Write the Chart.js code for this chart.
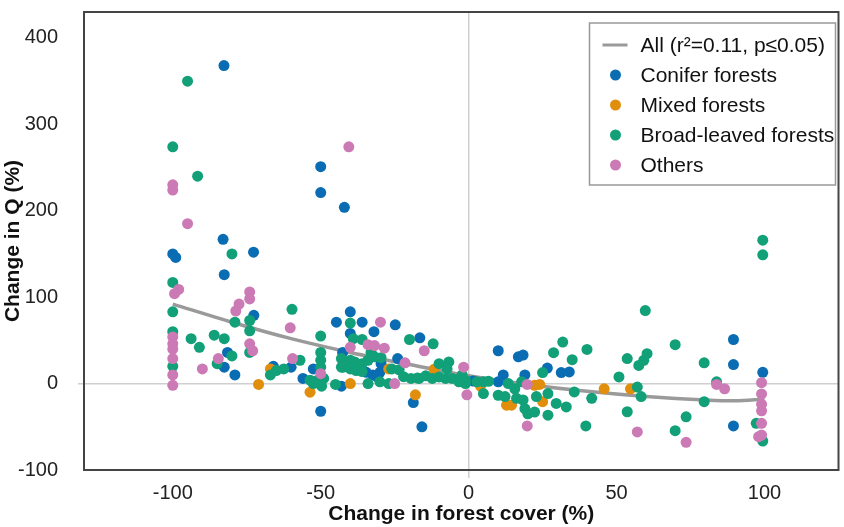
<!DOCTYPE html>
<html>
<head>
<meta charset="utf-8">
<script src="https://cdn.jsdelivr.net/npm/chart.js@4.4.1/dist/chart.umd.min.js"></script>
<style>
  html, body { margin: 0; padding: 0; background: #fff; }
  #wrap { width: 844px; height: 527px; }
</style>
</head>
<body>
<div id="wrap"><canvas id="chart" width="844" height="527"></canvas></div>
<script>
// точки [изменение лесистости %, изменение стока Q %]
const coniferPts = [
  [-82.7,368],[-50,221],[-50,251],[-42,204],[-100,150],[-99,146],[-83,167],[-82.6,126],
  [-72.7,152],[-72.6,79],[-81.5,36],[-82.6,19],[-79,10],[-66,20],[-60,19],[-56,6],
  [-40,83],[-44.7,71],[-36,71],[-24.8,68],[-32,60],[-40,58],[-42.6,36],[-16.5,53],
  [-29.6,23],[-24,29],[-52.5,17],[-43,-3],[-34.6,13],[-32.4,10],[-30,13],[-31,8],
  [-18.7,-22],[-50,-32],[-15.8,-50],[1.5,3],[10,38],[16.8,31],[18.4,33],[11.7,10],
  [10,2],[19,10],[26.6,18],[34,13.5],[31.3,12.7],[89.5,51],[89.5,22],[99.4,13],[89.5,-49]
];
const mixedPts = [
  [-71,-1],[-67,17],[-53.6,-10],[-40,0],[-27,17],[-18,-13],[-11.7,16.5],[4,-3],
  [12.8,-25],[14.5,-25],[22.3,-2],[24,-1],[25,-21],[45.8,-6],[54.7,-6]
];
const broadPts = [
  [-100,274],[-100,117],[-100,83],[-100,60],[-100,20],[-95,350],[-91.6,240],[-80,150],
  [-59.7,86],[-79,71],[-74,73],[-74,61],[-93.8,52],[-91,42],[-86,56],[-82.6,52],
  [-74,36],[-80,32],[-85,23],[-67,10],[-65,15],[-62.5,17],[-57,27],
  [-40,70],[-50,55],[-39,52],[-36,51],[-33,36],[-20,51],[-12,46],[-50,36],[-50,27],
  [-50,19],[-43,29],[-43,19],[-40,27],[-38.5,25],[-36,23],[-34,27],[-31.8,31],
  [-29.6,30],[-26,17],[-23.5,16],[-53.6,4],[-51,4],[-49,6],[-52.5,0],[-49.7,-3],
  [-45,-1],[-42.4,19],[-40,17],[-38,15],[-36,14],[-34,0],[-30,2],[-27,0],[-22,8],
  [-19.5,6],[-17.3,6.5],[-16.75,6],[-14.5,9],[-12.3,6],[-10,7.7],[-7.8,6],[-5.6,6],
  [-2.8,6.5],[-1.1,4],[-10,23],[-6.7,25],[-7.3,17],
  [-2.2,10],[-1.1,0],[-3.3,2],[2.8,2],[5,2],[6.7,2.7],[5,-11.5],[13.4,0],[15.6,-6],
  [17.9,2],[10,-13.5],[12.3,-15],[16.2,-17],[18.4,-19],[19,-29],[20,-35],[22.3,-33],
  [22.9,-15],[26.8,-11.5],[26.8,-36.5],[29.6,-23],[33,-27],[25,12.7],[28.7,35.7],
  [31.8,48],[35,27.6],[35.7,-9.6],[40,39.5],[41.6,-17],[39.6,-49],
  [59.7,84.5],[53.6,29],[57.5,21],[59.2,27],[60.3,34.6],[50.8,7.7],[57,-4],[58.3,-15],
  [53.6,-32.6],[99.4,166],[99.4,149],[69.8,45],[79.6,24],[83.8,2],[97.2,-46],
  [99.4,-66.5],[79.6,-21],[73.5,-38.4],[69.8,-54.5]
];
const otherPts = [
  [-100,230],[-100,224],[-95,185],[-40.5,274],[-98,109],[-99.4,104],[-74,106],[-74,98],
  [-77.6,92],[-78.7,84],[-60.3,64.5],[-100,54],[-100,46],[-100,40],[-100,29],[-100,10],
  [-100,-2],[-74,46],[-73,38],[-84.6,29],[-90,17],[-59.5,29],
  [-29.8,71],[-34,45],[-31.8,44],[-40,42],[-28.5,41],[-15,38],[-21.5,24],[-50,11.5],
  [-25,0],[-1.7,19],[-0.6,-13],[19.8,-1],[19.8,-49],[57,-56],[73.5,-68],[83.8,-1],
  [86.5,-6],[99,1],[99,-12],[99,-24],[99,-31.5],[99,-46],[99,-59.6],[98,-61.4]
];
// кривая регрессии
const fitX = [-100, -80, -60, -40, -20, 0, 20, 40, 60, 80, 90, 100];
const fitY = [92, 71, 52, 36, 22, 9, -1, -9, -15, -19, -20, -18];

const xTicks = [-100, -50, 0, 50, 100];
const yTicks = [-100, 0, 100, 200, 300, 400];

const FONT = 'Liberation Sans, Arial, Helvetica, sans-serif';
Chart.defaults.font.family = FONT;

const toXY = arr => arr.map(p => ({x: p[0], y: p[1]}));

function scatterSet(label, pts, color, order) {
    return {
        label: label,
        data: toXY(pts),
        backgroundColor: color,
        borderWidth: 0,
        pointRadius: 5.5,
        pointHoverRadius: 5.5,
        order: order
    };
}

const series = [
    scatterSet('Conifer forests', coniferPts, '#0a6db3', 4),
    scatterSet('Mixed forests', mixedPts, '#e08e0b', 3),
    scatterSet('Broad-leaved forests', broadPts, '#11a077', 2),
    scatterSet('Others', otherPts, '#cc7ab5', 1)
];

const fitLine = {
    type: 'line',
    label: 'All (r²=0.11, p≤0.05)',
    data: fitX.map((x, i) => ({x: x, y: fitY[i]})),
    borderColor: '#9a9a9a',
    borderWidth: 3.5,
    pointRadius: 0,
    showLine: true,
    fill: false,
    cubicInterpolationMode: 'monotone',
    order: 5
};

// рамка вокруг области графика
const framePlugin = {
    id: 'frame',
    afterDatasetsDraw(chart) {
        const {ctx, chartArea: a} = chart;
        ctx.save();
        ctx.strokeStyle = '#444';
        ctx.lineWidth = 2;
        ctx.strokeRect(a.left, a.top, a.right - a.left, a.bottom - a.top);
        ctx.restore();
    }
};

// легенда внутри области графика, справа сверху
const legendPlugin = {
    id: 'boxLegend',
    afterDraw(chart) {
        const {ctx, chartArea: a} = chart;
        const lx = a.right - 249, ly = a.top + 11, lw = 246, lh = 162;
        ctx.save();
        ctx.fillStyle = '#fff';
        ctx.fillRect(lx, ly, lw, lh);
        ctx.strokeStyle = '#999';
        ctx.lineWidth = 1.5;
        ctx.strokeRect(lx, ly, lw, lh);

        ctx.font = '21px ' + FONT;
        ctx.textBaseline = 'middle';
        ctx.fillStyle = '#111';
        let y = ly + 22;
        ctx.strokeStyle = fitLine.borderColor;
        ctx.lineWidth = 3;
        ctx.beginPath();
        ctx.moveTo(lx + 13, y);
        ctx.lineTo(lx + 38, y);
        ctx.stroke();
        ctx.fillText(fitLine.label, lx + 51, y + 1);

        series.forEach(s => {
            y += 30;
            ctx.fillStyle = s.backgroundColor;
            ctx.beginPath();
            ctx.arc(lx + 26, y, 5.5, 0, Math.PI * 2);
            ctx.fill();
            ctx.fillStyle = '#111';
            ctx.fillText(s.label, lx + 51, y + 1);
        });
        ctx.restore();
    }
};

const zeroGrid = c => (c.tick && c.tick.value === 0) ? '#cfcfcf' : 'rgba(0,0,0,0)';

const ctx = document.getElementById('chart').getContext('2d');
new Chart(ctx, {
    type: 'scatter',
    data: { datasets: [fitLine, ...series] },
    options: {
        responsive: false,
        animation: false,
        layout: { padding: { top: 12, right: 1, left: 0, bottom: 0 } },
        plugins: { legend: { display: false }, tooltip: { enabled: false } },
        scales: {
            x: {
                type: 'linear',
                min: -130,
                max: 125,
                afterBuildTicks: s => { s.ticks = xTicks.map(v => ({value: v})); },
                afterFit: s => { s.height = 57; s.paddingLeft = 0; s.paddingRight = 0; },
                border: { display: false },
                grid: { color: zeroGrid, lineWidth: 1.5, tickLength: 8 },
                ticks: { color: '#222', font: { size: 20 }, padding: 3, maxRotation: 0 },
                title: {
                    display: true,
                    text: 'Change in forest cover (%)',
                    color: '#111',
                    font: { size: 21, weight: 'bold' },
                    padding: { top: 0, bottom: 0 }
                }
            },
            y: {
                type: 'linear',
                min: -100,
                max: 430,
                afterBuildTicks: s => { s.ticks = yTicks.map(v => ({value: v})); },
                afterFit: s => { s.width = 84; s.paddingTop = 0; s.paddingBottom = 0; },
                border: { display: false },
                grid: { color: zeroGrid, lineWidth: 1.5, tickLength: 6 },
                ticks: { color: '#222', font: { size: 20 }, padding: 20 },
                title: {
                    display: true,
                    text: 'Change in Q (%)',
                    color: '#111',
                    font: { size: 21, weight: 'bold' },
                    padding: { top: 1, bottom: 0 }
                }
            }
        }
    },
    plugins: [framePlugin, legendPlugin]
});
</script>
</body>
</html>
